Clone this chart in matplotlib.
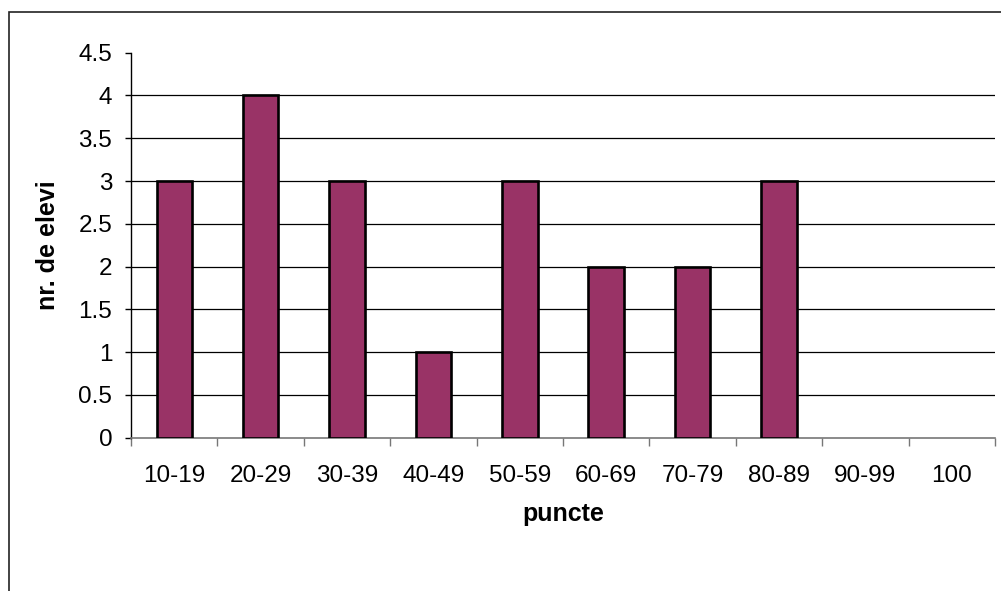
import matplotlib.pyplot as plt
from matplotlib.patches import Rectangle

plt.rcParams['font.family'] = ['Liberation Sans', 'DejaVu Sans']

categorii = ['10-19', '20-29', '30-39', '40-49', '50-59', '60-69', '70-79', '80-89', '90-99', '100']
nr_elevi = [3, 4, 3, 1, 3, 2, 2, 3, 0, 0]

fig = plt.figure(figsize=(10.01, 5.91), dpi=100)
ax = fig.add_axes([0.1309, 0.2594, 0.8631, 0.6514])

x = range(len(categorii))
# empty categories get no outline
contur = [1.9 if v > 0 else 0 for v in nr_elevi]
ax.bar(x, nr_elevi, width=0.41, color='#993366', edgecolor='black', linewidth=contur, zorder=3)

ax.set_xlim(-0.5, len(categorii) - 0.5)
ax.set_ylim(0, 4.5)
ax.set_yticks([0, 0.5, 1, 1.5, 2, 2.5, 3, 3.5, 4, 4.5])
ax.set_yticklabels(['0', '0.5', '1', '1.5', '2', '2.5', '3', '3.5', '4', '4.5'])
ax.set_xticks(list(x))
ax.set_xticklabels(categorii)
ax.set_xticks([i - 0.5 for i in range(len(categorii) + 1)], minor=True)

# gridlines only at inner levels
for v in [0.5, 1, 1.5, 2, 2.5, 3, 3.5, 4]:
    ax.axhline(v, color='black', linewidth=0.9, zorder=1)

ax.tick_params(axis='x', which='major', length=0, labelsize=17.5, pad=19.5)
ax.tick_params(axis='x', which='minor', length=6, width=1, color='#777777')
ax.tick_params(axis='y', length=4.5, width=1, labelsize=17.5, pad=9)

for s in ['top', 'right']:
    ax.spines[s].set_visible(False)
ax.spines['left'].set_linewidth(1)
ax.spines['bottom'].set_color('#777777')
ax.spines['bottom'].set_linewidth(1.2)

ax.set_xlabel('puncte', fontsize=18, fontweight='bold', labelpad=11)
ax.set_ylabel('nr. de elevi', fontsize=18, fontweight='bold', labelpad=13)

# chart area border
fig.add_artist(Rectangle((9 / 1001, -0.1), 1.2, 1.1 - 12 / 591, transform=fig.transFigure,
                         fill=False, edgecolor='#222222', linewidth=1.2))

fig.savefig('out.png', dpi=100)
